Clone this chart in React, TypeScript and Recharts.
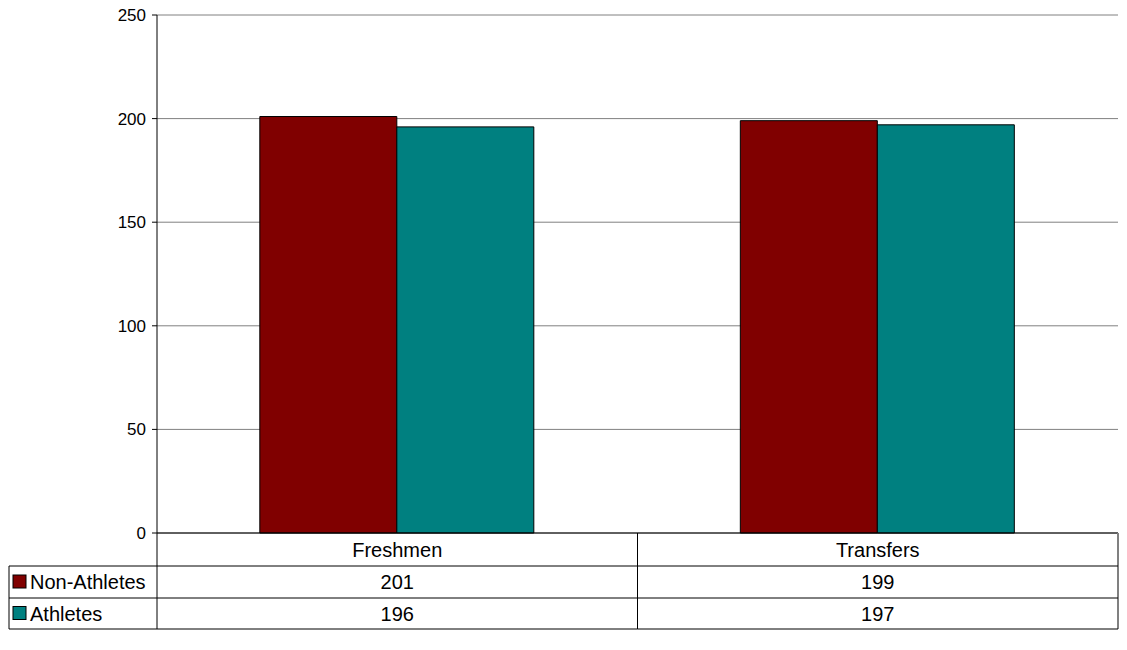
import React from 'react';
import { BarChart, Bar, XAxis, YAxis, CartesianGrid } from 'recharts';

const categories = ['Freshmen', 'Transfers'];
const seriesNames = ['Non-Athletes', 'Athletes'];
const nonAthletes = [201, 199];
const athletes = [196, 197];
const yTicks = [0, 50, 100, 150, 200, 250];

const seriesColors = ['#800000', '#008080'];

const data = categories.map((category, i) => ({
  category,
  nonAthletes: nonAthletes[i],
  athletes: athletes[i],
}));
const seriesValues = [nonAthletes, athletes];

const W = 1127;
const H = 650;
const PLOT_LEFT = 157;
const PLOT_RIGHT = 1118;
const BAND = (PLOT_RIGHT - PLOT_LEFT) / categories.length;

// data table rows below the plot
const ROWS = [533, 566, 598, 629];
const TABLE_LEFT = 9;
const FONT = '"Liberation Sans", Arial, sans-serif';
const TABLE_FS = 20;

const rowMid = (r: number) => (ROWS[r] + ROWS[r + 1]) / 2 + TABLE_FS * 0.35;

const TableTick = (props: any) => {
  const { x, payload, index } = props;
  const left = x - BAND / 2;
  const right = x + BAND / 2;
  const last = index === categories.length - 1;
  return (
    <g>
      <line x1={left} y1={ROWS[0]} x2={left} y2={ROWS[3]} stroke="#000" />
      {last && (
        <line x1={right} y1={ROWS[0]} x2={right} y2={ROWS[3]} stroke="#808080" strokeWidth={2} />
      )}
      {[1, 2, 3].map((r) => (
        <line key={r} x1={left} y1={ROWS[r]} x2={right} y2={ROWS[r]} stroke="#000" />
      ))}
      <text x={x} y={rowMid(0)} textAnchor="middle" fontSize={TABLE_FS} fontFamily={FONT} fill="#000">
        {payload.value}
      </text>
      {seriesValues.map((vals, s) => (
        <text key={s} x={x} y={rowMid(s + 1)} textAnchor="middle" fontSize={TABLE_FS} fontFamily={FONT} fill="#000">
          {vals[index]}
        </text>
      ))}
      {index === 0 && (
        <g>
          <line x1={TABLE_LEFT} y1={ROWS[1]} x2={TABLE_LEFT} y2={ROWS[3]} stroke="#000" />
          {[1, 2, 3].map((r) => (
            <line key={r} x1={TABLE_LEFT} y1={ROWS[r]} x2={left} y2={ROWS[r]} stroke="#000" />
          ))}
          {seriesNames.map((name, s) => {
            const cy = (ROWS[s + 1] + ROWS[s + 2]) / 2;
            return (
              <g key={name}>
                <rect x={13} y={cy - 7} width={13} height={13} fill={seriesColors[s]} stroke="#000" />
                <text x={30} y={rowMid(s + 1)} fontSize={TABLE_FS} fontFamily={FONT} fill="#000">
                  {name}
                </text>
              </g>
            );
          })}
        </g>
      )}
    </g>
  );
};

export default function App() {
  return (
    <div style={{ position: 'absolute', left: 0, top: 0, background: '#fff' }}>
      <BarChart
        width={W}
        height={H}
        data={data}
        margin={{ top: 15, right: W - PLOT_RIGHT, left: PLOT_LEFT - 60, bottom: 21 }}
        barCategoryGap="21.4%"
        barGap={0}
      >
        <CartesianGrid vertical={false} stroke="#808080" />
        <XAxis
          dataKey="category"
          height={96}
          interval={0}
          axisLine={{ stroke: '#000' }}
          tickLine={false}
          tick={<TableTick />}
        />
        <YAxis
          width={60}
          domain={[0, 250]}
          ticks={yTicks}
          interval={0}
          axisLine={{ stroke: '#000' }}
          tickLine={{ stroke: '#000' }}
          tickSize={5}
          tickMargin={6}
          tick={{ fill: '#000', fontSize: 17, fontFamily: FONT }}
        />
        <YAxis
          yAxisId="border"
          orientation="right"
          width={0}
          tick={false}
          tickLine={false}
          axisLine={{ stroke: '#808080', strokeWidth: 2 }}
        />
        <Bar dataKey="nonAthletes" name={seriesNames[0]} fill={seriesColors[0]} stroke="#000" isAnimationActive={false} />
        <Bar dataKey="athletes" name={seriesNames[1]} fill={seriesColors[1]} stroke="#000" isAnimationActive={false} />
      </BarChart>
    </div>
  );
}
